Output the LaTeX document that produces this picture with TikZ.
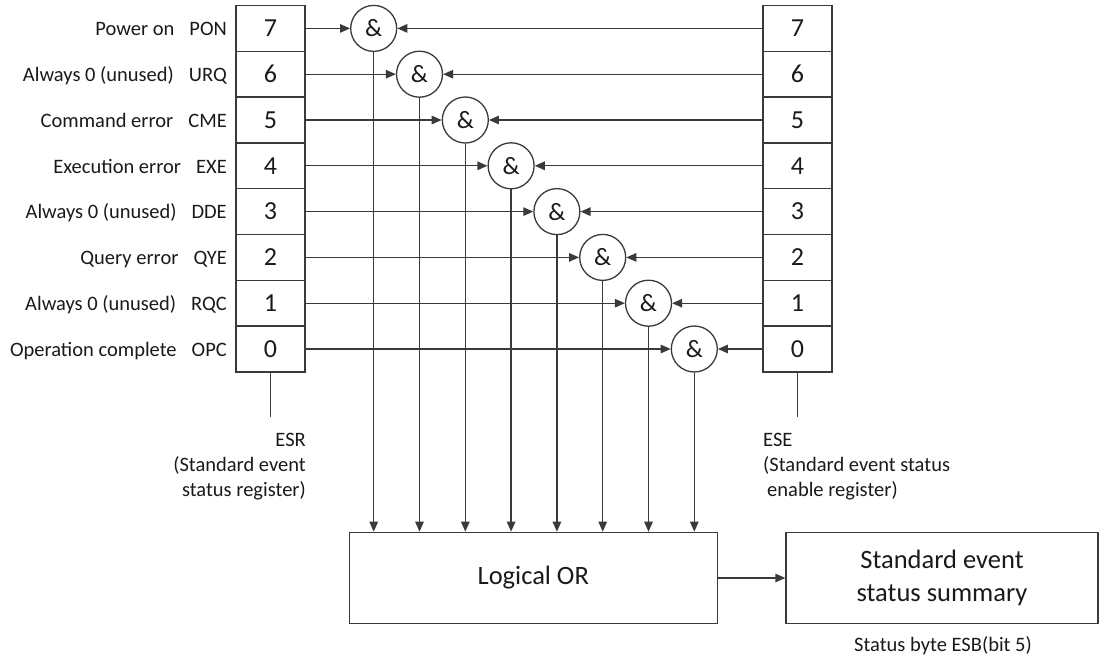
\documentclass[tikz,border=0pt]{standalone}
\usepackage{fontspec}
\setmainfont{Carlito}
\usetikzlibrary{arrows.meta,calc}
\definecolor{ln}{HTML}{3A3A3A}
\definecolor{tx}{HTML}{1A1A1A}
\tikzset{
  cell/.style={draw=ln,line width=1.3pt,minimum width=69pt,minimum height=45.8pt,inner sep=0pt,font=\fontsize{26}{30}\selectfont,text=tx},
  gate/.style={draw=ln,line width=1.3pt,circle,minimum size=46pt,inner sep=0pt,font=\fontsize{25}{30}\selectfont,text=tx,fill=white},
  bigbox/.style={draw=ln,line width=1.3pt,inner sep=0pt,font=\fontsize{26.5}{33}\selectfont,text=tx,align=center},
  lbl/.style={inner sep=0pt,font=\fontsize{20.5}{25}\selectfont,text=tx},
  wire/.style={draw=ln,line width=1.3pt},
  arr/.style={wire,-{Triangle[length=10pt,width=8.5pt]}}
}
\begin{document}
\begin{tikzpicture}[x=1pt,y=-1pt]
\useasboundingbox (0,0) rectangle (1099,659);
% registers and gates
\foreach \b/\t [count=\i from 0] in {7/PON,6/URQ,5/CME,4/EXE,3/DDE,2/QYE,1/RQC,0/OPC}{
  \node[cell] (esr\b) at (270.5,28.4+\i*45.8) {\b};
  \node[cell] (ese\b) at (797.5,28.4+\i*45.8) {\b};
}
\foreach \b [count=\i from 0] in {7,6,5,4,3,2,1,0}{
  \node[gate] (and\b) at (373.7+\i*45.8,28.4+\i*45.8) {\&};
}
% left labels
\node[lbl,anchor=base east] (l7) at (227,35.6) {Power on\hspace{15pt}PON};
\node[lbl,anchor=base east] (l6) at (227,35.6+45.8) {Always 0 (unused)\hspace{15pt}URQ};
\node[lbl,anchor=base east] (l5) at (227,35.6+2*45.8) {Command error\hspace{15pt}CME};
\node[lbl,anchor=base east] (l4) at (227,35.6+3*45.8) {Execution error\hspace{15pt}EXE};
\node[lbl,anchor=base east] (l3) at (227,35.6+4*45.8) {Always 0 (unused)\hspace{15pt}DDE};
\node[lbl,anchor=base east] (l2) at (227,35.6+5*45.8) {Query error\hspace{15pt}QYE};
\node[lbl,anchor=base east] (l1) at (227,35.6+6*45.8) {Always 0 (unused)\hspace{15pt}RQC};
\node[lbl,anchor=base east] (l0) at (227,35.6+7*45.8) {Operation complete\hspace{15pt}OPC};
% boxes
\node[bigbox,minimum width=368pt,minimum height=91.4pt] (or) at (533.3,578) {Logical OR};
\node[bigbox,minimum width=312pt,minimum height=91.4pt] (sum) at (942,578) {Standard event\\status summary};
\node[lbl] (esb) at (943,646) {Status byte ESB(bit 5)};
% register stems and captions
\coordinate (esrend) at (270.5,417.3);
\coordinate (eseend) at (797.5,417.3);
\draw[wire] (esr0.south) -- (esrend);
\draw[wire] (ese0.south) -- (eseend);
\node[lbl,anchor=north east,align=right] (esrl) at (306,432.5) {ESR\\(Standard event\\status register)};
\node[lbl,anchor=north west,align=left] (esel) at (763,432.5) {ESE\\(Standard event status\\\hspace{4pt}enable register)};
% connectors
\foreach \b in {7,6,5,4,3,2,1,0}{
  \draw[arr] (esr\b.east) -- (and\b.west);
  \draw[arr] (ese\b.west) -- (and\b.east);
  \draw[arr] (and\b.south) -- (and\b.south |- or.north);
}
\draw[arr] (or.east) -- (sum.west);
\end{tikzpicture}
\end{document}
